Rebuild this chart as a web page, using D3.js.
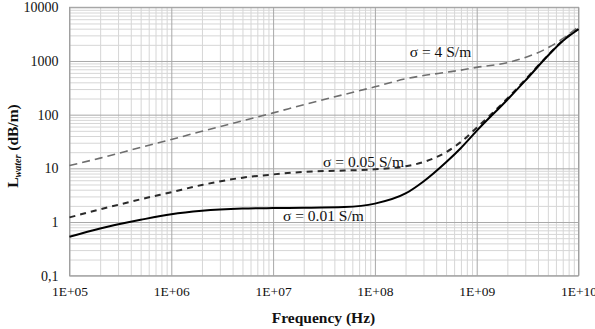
<!DOCTYPE html>
<html>
<head>
<meta charset="utf-8">
<script src="https://cdn.jsdelivr.net/npm/d3@7/dist/d3.min.js"></script>
<style>
  html, body { margin: 0; padding: 0; background: #fff; }
  svg { display: block; }
  svg text { font-family: "Liberation Serif", "Times New Roman", Times, "DejaVu Serif", serif; fill: #111; }
</style>
</head>
<body>
<svg id="chart" width="595" height="329"></svg>
<script>
// ---- data ----
const freqs = [1e5, 2e5, 5e5, 1e6, 2e6, 5e6, 1e7, 2e7, 5e7, 1e8, 2e8, 3e8, 5e8, 7e8, 1e9, 2e9, 3e9, 5e9, 7e9, 1e10];
const sigma4    = [11.3, 15.5, 24.5, 34.5, 49, 77, 108, 153, 238, 330, 465, 535, 615, 675, 760, 930, 1160, 1760, 2600, 4400];
const sigma005  = [1.22, 1.72, 2.65, 3.6, 4.9, 6.7, 7.7, 8.6, 9.1, 9.6, 10.9, 13.1, 20, 31, 57, 200, 450, 1270, 2400, 3950];
const sigma001  = [0.53, 0.76, 1.1, 1.4, 1.62, 1.78, 1.82, 1.84, 1.9, 2.2, 3.4, 5.7, 13, 24, 50, 190, 430, 1250, 2350, 3900];
const seriesNames = ["σ = 4 S/m", "σ = 0.05 S/m", "σ = 0.01 S/m"];
const xTickValues = [1e5, 1e6, 1e7, 1e8, 1e9, 1e10];
const xTickLabels = ["1E+05", "1E+06", "1E+07", "1E+08", "1E+09", "1E+10"];
const yTickValues = [0.1, 1, 10, 100, 1000, 10000];
const yTickLabels = ["0,1", "1", "10", "100", "1000", "10000"];

// ---- layout ----
const FONT = "Liberation Serif, Times New Roman, Times, DejaVu Serif, serif";
const svg = d3.select("#chart");
const m = { left: 69.5, top: 7.3, right: 16.5, bottom: 53.3 };
const W = 595 - m.left - m.right, H = 329 - m.top - m.bottom;
const g = svg.append("g").attr("transform", `translate(${m.left},${m.top})`);

const x = d3.scaleLog().domain([1e5, 1e10]).range([0, W]);
const y = d3.scaleLog().domain([0.1, 10000]).range([H, 0]);

// minor grid
const minorX = [], minorY = [];
for (let e = 5; e < 10; e++) for (let k = 2; k <= 9; k++) minorX.push(k * Math.pow(10, e));
for (let e = -1; e < 4; e++) for (let k = 2; k <= 9; k++) minorY.push(k * Math.pow(10, e));

g.append("g")
  .attr("transform", `translate(0,${H})`)
  .call(d3.axisBottom(x).tickValues(minorX).tickSize(-H).tickFormat(""))
  .call(s => s.select(".domain").remove())
  .call(s => s.selectAll("line").attr("stroke", "#d6d6d6").attr("stroke-width", 1));
g.append("g")
  .call(d3.axisLeft(y).tickValues(minorY).tickSize(-W).tickFormat(""))
  .call(s => s.select(".domain").remove())
  .call(s => s.selectAll("line").attr("stroke", "#d6d6d6").attr("stroke-width", 1));

// major grid
g.append("g")
  .attr("transform", `translate(0,${H})`)
  .call(d3.axisBottom(x).tickValues(xTickValues).tickSize(-H).tickFormat(""))
  .call(s => s.select(".domain").remove())
  .call(s => s.selectAll("line").attr("stroke", "#a8a8a8").attr("stroke-width", 1));
g.append("g")
  .call(d3.axisLeft(y).tickValues(yTickValues).tickSize(-W).tickFormat(""))
  .call(s => s.select(".domain").remove())
  .call(s => s.selectAll("line").attr("stroke", "#a8a8a8").attr("stroke-width", 1));

// frame
g.append("rect").attr("width", W).attr("height", H)
  .attr("fill", "none").attr("stroke", "#a0a0a0").attr("stroke-width", 1);

// tick labels via axes
g.append("g")
  .attr("transform", `translate(0,${H})`)
  .attr("font-family", FONT)
  .call(d3.axisBottom(x).tickValues(xTickValues).tickSize(0).tickPadding(11)
        .tickFormat((d, i) => xTickLabels[i]))
  .call(s => s.select(".domain").remove())
  .call(s => s.selectAll("text").attr("font-size", 13.5).attr("font-family", FONT).attr("fill", "#111"));
g.append("g")
  .attr("font-family", FONT)
  .call(d3.axisLeft(y).tickValues(yTickValues).tickSize(0).tickPadding(11)
        .tickFormat((d, i) => yTickLabels[i]))
  .call(s => s.select(".domain").remove())
  .call(s => s.selectAll("text").attr("font-size", 14).attr("font-family", FONT).attr("fill", "#111"));

// lines
const line = d3.line().x(d => x(d[0])).y(d => y(d[1])).curve(d3.curveMonotoneX);
const mk = vals => freqs.map((f, i) => [f, vals[i]]);
g.append("path").datum(mk(sigma4)).attr("d", line)
  .attr("fill", "none").attr("stroke", "#6e6e6e").attr("stroke-width", 1.6)
  .attr("stroke-dasharray", "8,5");
g.append("path").datum(mk(sigma005)).attr("d", line)
  .attr("fill", "none").attr("stroke", "#2a2a2a").attr("stroke-width", 2)
  .attr("stroke-dasharray", "6,5");
g.append("path").datum(mk(sigma001)).attr("d", line)
  .attr("fill", "none").attr("stroke", "#000").attr("stroke-width", 2);

// series labels
const labelPos = [[2.2e8, 1400], [3.1e7, 12.5], [1.25e7, 1.2]];
seriesNames.forEach((t, i) => {
  g.append("text").attr("x", x(labelPos[i][0])).attr("y", y(labelPos[i][1]))
    .attr("font-family", FONT)
    .attr("font-size", 15.5).attr("dominant-baseline", "middle").text(t);
});

// axis titles
svg.append("text").attr("x", m.left + W / 2 - 0.5).attr("y", 323)
  .attr("font-family", FONT)
  .attr("text-anchor", "middle").attr("font-size", 15.5).attr("font-weight", "bold")
  .text("Frequency (Hz)");
const yt = svg.append("text")
  .attr("transform", "translate(18,146) rotate(-90)")
  .attr("font-family", FONT)
  .attr("text-anchor", "middle").attr("font-size", 15.5).attr("font-weight", "bold");
yt.append("tspan").text("L");
yt.append("tspan").attr("font-size", 10).attr("font-style", "italic").attr("dy", 3).text("water");
yt.append("tspan").attr("dy", -3).text(" (dB/m)");
</script>
</body>
</html>
